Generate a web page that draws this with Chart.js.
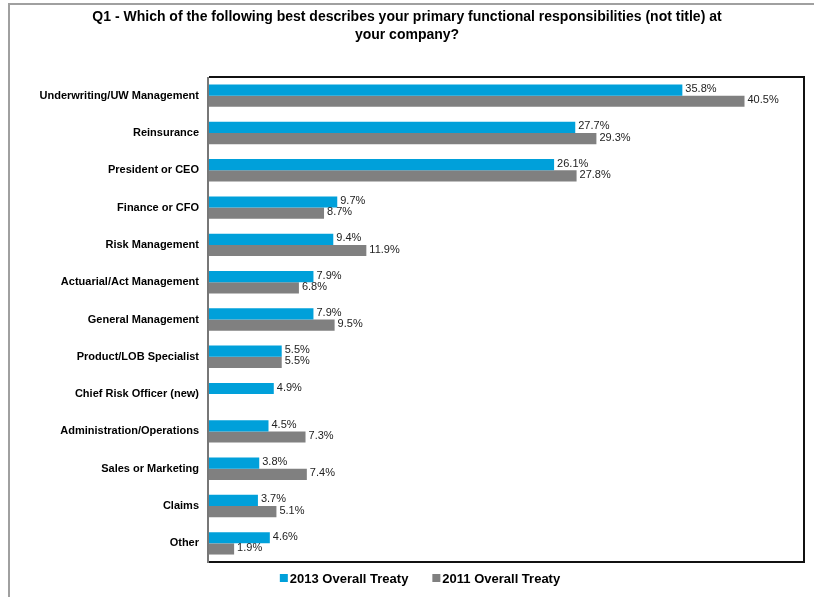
<!DOCTYPE html>
<html>
<head>
<meta charset="utf-8">
<script src="https://cdn.jsdelivr.net/npm/chart.js@4/dist/chart.umd.min.js"></script>
<style>
  html, body { margin: 0; padding: 0; background: #fff; }
  #graph { display: block; }
</style>
</head>
<body>
<canvas id="graph" width="814" height="597"></canvas>
<script>
var roles = [
    "Underwriting/UW Management",
    "Reinsurance",
    "President or CEO",
    "Finance or CFO",
    "Risk Management",
    "Actuarial/Act Management",
    "General Management",
    "Product/LOB Specialist",
    "Chief Risk Officer (new)",
    "Administration/Operations",
    "Sales or Marketing",
    "Claims",
    "Other"
];
var treaty2013 = [35.8, 27.7, 26.1, 9.7, 9.4, 7.9, 7.9, 5.5, 4.9, 4.5, 3.8, 3.7, 4.6];
var treaty2011 = [40.5, 29.3, 27.8, 8.7, 11.9, 6.8, 9.5, 5.5, null, 7.3, 7.4, 5.1, 1.9];

var titleLines = [
    "Q1 - Which of the following best describes your primary functional responsibilities (not title) at",
    "your company?"
];

var FONT = "'Liberation Sans', Arial, sans-serif";

// Gray page frame on the left and top edges
var pageFrame = {
    id: "pageFrame",
    beforeDraw: function(chart) {
        var ctx = chart.ctx;
        ctx.save();
        ctx.strokeStyle = "#a0a0a0";
        ctx.lineWidth = 2;
        ctx.beginPath();
        ctx.moveTo(9, chart.height);
        ctx.lineTo(9, 4);
        ctx.lineTo(chart.width, 4);
        ctx.stroke();
        ctx.restore();
    }
};

// Percent labels to the right of each bar, plus the box round the plot
var barLabels = {
    id: "barLabels",
    afterDatasetsDraw: function(chart) {
        var ctx = chart.ctx;
        ctx.save();
        ctx.font = "11px " + FONT;
        ctx.fillStyle = "#222";
        ctx.textAlign = "left";
        ctx.textBaseline = "middle";
        chart.data.datasets.forEach(function(ds, i) {
            var meta = chart.getDatasetMeta(i);
            meta.data.forEach(function(bar, j) {
                var v = ds.data[j];
                if (v === null || v === undefined) return;
                ctx.fillText(v.toFixed(1) + "%", bar.x + 3, bar.y - 1);
            });
        });

        var a = chart.chartArea;
        ctx.lineWidth = 2;
        ctx.strokeStyle = "#111";
        ctx.beginPath();
        ctx.moveTo(a.left, a.top);
        ctx.lineTo(a.right, a.top);
        ctx.lineTo(a.right, a.bottom);
        ctx.lineTo(a.left, a.bottom);
        ctx.stroke();
        ctx.strokeStyle = "#777";
        ctx.beginPath();
        ctx.moveTo(a.left - 1, a.top);
        ctx.lineTo(a.left - 1, a.bottom + 1);
        ctx.stroke();
        ctx.restore();
    }
};

// Legend row under the plot: small square, then the series name
var bottomLegend = {
    id: "bottomLegend",
    afterDraw: function(chart) {
        var ctx = chart.ctx;
        var sets = chart.data.datasets;
        var box = 8, gap = 2, spacing = 24;
        ctx.save();
        ctx.font = "bold 13px " + FONT;
        ctx.textBaseline = "middle";
        ctx.textAlign = "left";
        var total = 0;
        sets.forEach(function(ds, i) {
            total += box + gap + ctx.measureText(ds.label).width;
            if (i > 0) total += spacing;
        });
        var x = chart.width / 2 + 13 - total / 2;
        var y = chart.chartArea.bottom + 16;
        sets.forEach(function(ds) {
            ctx.fillStyle = ds.backgroundColor;
            ctx.fillRect(x, y - box / 2, box, box);
            x += box + gap;
            ctx.fillStyle = "#000";
            ctx.fillText(ds.label, x, y + 1);
            x += ctx.measureText(ds.label).width + spacing;
        });
        ctx.restore();
    }
};

var ctx = document.getElementById("graph").getContext("2d");
var chart = new Chart(ctx, {
    type: "bar",
    data: {
        labels: roles,
        datasets: [{
            label: "2013 Overall Treaty",
            data: treaty2013,
            backgroundColor: "#00a0da",
            borderWidth: 0
        }, {
            label: "2011 Overall Treaty",
            data: treaty2011,
            backgroundColor: "#808080",
            borderWidth: 0
        }]
    },
    options: {
        indexAxis: "y",
        responsive: false,
        animation: false,
        // symmetric side padding keeps the title centred on the page
        layout: { padding: { left: 10, right: 10, top: 0, bottom: 35 } },
        datasets: {
            bar: { barPercentage: 1.0, categoryPercentage: 0.6 }
        },
        scales: {
            x: {
                display: false,
                min: 0,
                max: 45
            },
            y: {
                grid: { display: false, drawTicks: false },
                border: { display: false },
                ticks: {
                    padding: 10,
                    color: "#000",
                    font: { family: FONT, size: 11, weight: "bold" }
                },
                afterFit: function(scale) { scale.width = 199; }
            }
        },
        plugins: {
            title: {
                display: true,
                text: titleLines,
                color: "#000",
                font: { family: FONT, size: 14, weight: "bold", lineHeight: "18px" },
                padding: { top: 8, bottom: 33 }
            },
            legend: { display: false },
            tooltip: { enabled: false }
        }
    },
    plugins: [pageFrame, barLabels, bottomLegend]
});
</script>
</body>
</html>
